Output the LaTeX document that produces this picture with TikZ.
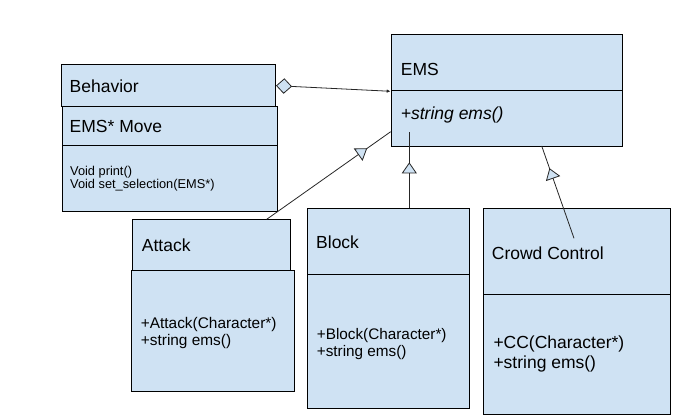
\documentclass[tikz,border=0pt]{standalone}
\usepackage{fontspec}
\setmainfont{Liberation Sans}
\usetikzlibrary{arrows.meta,decorations.markings}
\definecolor{umlblue}{HTML}{CFE2F3}

\tikzset{inherit/.style={edge,postaction={decorate,decoration={markings,
  mark=at position #1 with {\arrow{Triangle[length=11pt,width=15pt,fill=umlblue]}}}}}}

\begin{document}
\begin{tikzpicture}[x=1pt,y=-1pt]
        \tikzstyle{part}=[rectangle,draw=black,line width=1pt,fill=umlblue,anchor=north west,inner sep=0pt]
        \tikzstyle{title}=[anchor=base west,inner sep=0pt,font=\fontsize{17.5}{20}\selectfont]
        \tikzstyle{ops}=[anchor=base west,inner sep=0pt,align=left]
        \tikzstyle{edge}=[draw=black!85,line width=0.8pt]

        \useasboundingbox (0,0) rectangle (675,419);

        % Behavior
        \node [part,minimum width=214pt,minimum height=41.7pt] (behHead) at (61,64.3) {};
        \node [part,minimum width=215pt,minimum height=39pt] (behAttr) at (61.5,106) {};
        \node [part,minimum width=215pt,minimum height=66pt] (behOps) at (61.5,145) {};
        \node [title] (behName) at (69.5,92.3) {Behavior};
        \node [title] (behMove) at (69.5,132.3) {EMS* Move};
        \node [ops,font=\fontsize{12.8}{12.6}\selectfont] (behList) at (70,188.3) {Void print()\\Void set\_selection(EMS*)};

        % EMS
        \node [part,minimum width=231.3pt,minimum height=56pt] (emsHead) at (390.7,34.3) {};
        \node [part,minimum width=231.3pt,minimum height=55.7pt] (emsOps) at (390.7,90.3) {};
        \node [title] (emsName) at (400.7,75.7) {EMS};
        \node [title,font=\fontsize{17.5}{20}\selectfont\itshape] (emsList) at (400.7,119.3) {+string ems()};

        % Attack
        \node [part,minimum width=158pt,minimum height=50.7pt] (atkHead) at (132.3,219.3) {};
        \node [part,minimum width=163pt,minimum height=120.7pt] (atkOps) at (131.3,270) {};
        \node [title] (atkName) at (141.7,251.7) {Attack};
        \node [ops,font=\fontsize{15.4}{17.4}\selectfont] (atkList) at (140.7,345.7) {+Attack(Character*)\\+string ems()};

        % Block
        \node [part,minimum width=161.7pt,minimum height=66pt] (blkHead) at (307.3,208.3) {};
        \node [part,minimum width=161.7pt,minimum height=134pt] (blkOps) at (307.3,274.3) {};
        \node [title] (blkName) at (316,248.3) {Block};
        \node [ops,font=\fontsize{15.3}{16.7}\selectfont] (blkList) at (316.7,356.7) {+Block(Character*)\\+string ems()};

        % Crowd Control
        \node [part,minimum width=187.3pt,minimum height=85.7pt] (ccHead) at (482.7,208.3) {};
        \node [part,minimum width=187.3pt,minimum height=120.3pt] (ccOps) at (482.7,294) {};
        \node [title] (ccName) at (491.7,259.3) {Crowd Control};
        \node [ops,font=\fontsize{17.5}{20}\selectfont] (ccList) at (493.3,368.3) {+CC(Character*)\\+string ems()};

        \coordinate (atkFrom) at (266.7,219.3);
        \coordinate (atkTo) at (390.7,131.7);
        \coordinate (blkFrom) at (409.3,208.3);
        \coordinate (blkTo) at (409.3,131.7);
        \coordinate (ccFrom) at (574,238.3);
        \coordinate (ccTo) at (541.7,146);

        \path [edge,{Diamond[length=16pt,width=15.5pt,fill=umlblue]}-{Latex[length=4pt,width=3.5pt]}] (behHead.east) -- (emsHead.south west);
        \path [inherit=0.81] (atkFrom) -- (atkTo);
        \path [inherit=0.6] (blkFrom) -- (blkTo);
        \path [inherit=0.76] (ccFrom) -- (ccTo);
\end{tikzpicture}
\end{document}
